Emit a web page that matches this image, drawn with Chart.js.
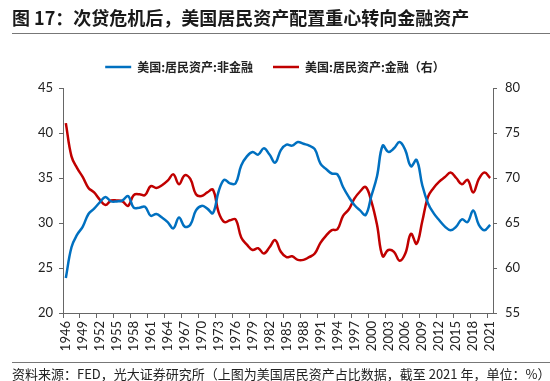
<!DOCTYPE html>
<html>
<head>
<meta charset="utf-8">
<script src="https://cdn.jsdelivr.net/npm/chart.js@4.4.1/dist/chart.umd.min.js"></script>
<style>
  html, body { margin: 0; padding: 0; background: #fff; }
  body { width: 550px; height: 381px; position: relative; overflow: hidden; font-family: "Noto Sans CJK SC", sans-serif; }
  #wrap { position: absolute; left: 0; top: 0; width: 550px; height: 381px; }
  .title { position: absolute; left: 12px; top: 4px; font-size: 18px; font-weight: bold; color: #1a1a1a; white-space: nowrap; }
  .rule { position: absolute; left: 12px; right: 0; height: 0; border-top: 1.5px solid #777; }
  .src { position: absolute; left: 12px; top: 364px; font-size: 13px; color: #222; white-space: nowrap; }
</style>
</head>
<body>
<div id="wrap"><canvas id="chart"></canvas></div>
<div class="title">图 17：次贷危机后，美国居民资产配置重心转向金融资产</div>
<div class="rule" style="top:33px"></div>
<div class="rule" style="top:362px"></div>
<div class="src">资料来源：FED，光大证券研究所（上图为美国居民资产占比数据，截至 2021 年，单位：%）</div>
<script>
const years = [
    '1946', '1947', '1948', '1949', '1950', '1951', '1952', '1953', '1954', '1955',
    '1956', '1957', '1958', '1959', '1960', '1961', '1962', '1963', '1964', '1965',
    '1966', '1967', '1968', '1969', '1970', '1971', '1972', '1973', '1974', '1975',
    '1976', '1977', '1978', '1979', '1980', '1981', '1982', '1983', '1984', '1985',
    '1986', '1987', '1988', '1989', '1990', '1991', '1992', '1993', '1994', '1995',
    '1996', '1997', '1998', '1999', '2000', '2001', '2002', '2003', '2004', '2005',
    '2006', '2007', '2008', '2009', '2010', '2011', '2012', '2013', '2014', '2015',
    '2016', '2017', '2018', '2019', '2020', '2021',
];

// 非金融资产占比 (左轴, %)
const nonFinancial = [
    23.9, 27.3, 28.7, 29.6, 31.0, 31.6, 32.3, 32.9, 32.4, 32.4,
    32.5, 33.0, 31.7, 31.7, 31.8, 30.8, 31.0, 30.6, 30.1, 29.4,
    30.6, 29.6, 29.8, 31.4, 31.9, 31.6, 31.1, 33.5, 34.8, 34.4,
    34.4, 36.4, 37.4, 37.9, 37.6, 38.3, 37.6, 36.7, 38.1, 38.7,
    38.6, 39.0, 38.8, 38.6, 38.2, 36.6, 36.0, 35.5, 35.4, 34.0,
    32.9, 32.0, 31.4, 30.9, 33.0, 35.2, 38.6, 37.9, 38.3, 39.0,
    38.1, 36.3, 37.0, 34.2, 32.2, 31.1, 30.3, 29.6, 29.2, 29.6,
    30.4, 30.1, 31.4, 29.8, 29.2, 29.8,
];

// 金融资产占比 (右轴, %)
const financial = [
    76.1, 72.4, 71.1, 70.1, 68.9, 68.4, 67.6, 67.0, 67.5, 67.5,
    67.4, 66.9, 68.1, 68.2, 68.1, 69.1, 68.9, 69.2, 69.7, 70.4,
    69.3, 70.3, 69.9, 68.2, 68.0, 68.4, 68.7, 66.2, 65.1, 65.3,
    65.4, 63.4, 62.6, 62.0, 62.2, 61.6, 62.3, 63.1, 61.8, 61.2,
    61.3, 60.9, 60.9, 61.2, 61.6, 62.8, 63.6, 64.2, 64.3, 65.8,
    66.5, 67.7, 68.5, 69.0, 67.4, 64.8, 61.3, 62.0, 61.8, 60.8,
    61.6, 63.8, 62.7, 65.2, 67.9, 68.9, 69.6, 70.1, 70.6, 70.0,
    69.3, 69.8, 68.4, 69.9, 70.6, 70.0,
];

const leftTicks = [20, 25, 30, 35, 40, 45];
const rightTicks = [55, 60, 65, 70, 75, 80];

const axisColor = '#666';
const tickFont = { family: '"Lato", "Noto Sans CJK SC", sans-serif', size: 13 };

// a bit more room between the legend and the plot
const legendGap = {
    id: 'legendGap',
    beforeInit(chart) {
        const fit = chart.legend.fit;
        chart.legend.fit = function () {
            fit.call(this);
            this.height += 5;
        };
    },
};

new Chart(document.getElementById('chart'), {
    type: 'line',
    data: {
        labels: years,
        datasets: [
            {
                label: '美国:居民资产:非金融',
                data: nonFinancial,
                yAxisID: 'y',
                borderColor: '#0070C0',
                backgroundColor: '#0070C0',
                borderWidth: 2.5,
                pointRadius: 0,
                tension: 0.4,
            },
            {
                label: '美国:居民资产:金融（右）',
                data: financial,
                yAxisID: 'y1',
                borderColor: '#C00000',
                backgroundColor: '#C00000',
                borderWidth: 2.5,
                pointRadius: 0,
                tension: 0.4,
            },
        ],
    },
    plugins: [legendGap],
    options: {
        responsive: true,
        maintainAspectRatio: false,
        animation: false,
        layout: { padding: { top: 41, left: 0, right: 0, bottom: 0 } },
        plugins: {
            tooltip: { enabled: false },
            legend: {
                position: 'top',
                labels: {
                    usePointStyle: true,
                    pointStyle: 'line',
                    pointStyleWidth: 26,
                    padding: 20,
                    color: '#222',
                    font: { family: '"Noto Sans CJK SC", sans-serif', size: 12, weight: 'bold' },
                },
            },
        },
        scales: {
            x: {
                offset: true,
                grid: {
                    offset: true,
                    drawOnChartArea: false,
                    tickLength: 5,
                    color: (ctx) => (ctx.index % 3 === 0 ? axisColor : 'rgba(0,0,0,0)'),
                },
                border: { color: axisColor, width: 1 },
                ticks: {
                    autoSkip: false,
                    minRotation: 90,
                    maxRotation: 90,
                    padding: 3,
                    color: '#222',
                    font: tickFont,
                    callback: (v, i) => (i % 3 === 0 ? years[i] : ''),
                },
                afterFit: (s) => { s.height = 68; },
            },
            y: {
                position: 'left',
                min: leftTicks[0],
                max: leftTicks[leftTicks.length - 1],
                afterBuildTicks: (s) => { s.ticks = leftTicks.map((v) => ({ value: v })); },
                grid: { drawOnChartArea: false, tickLength: 4, color: axisColor },
                border: { color: axisColor, width: 1 },
                ticks: { padding: 6, color: '#222', font: tickFont },
                afterFit: (s) => { s.width = 63; },
            },
            y1: {
                position: 'right',
                min: rightTicks[0],
                max: rightTicks[rightTicks.length - 1],
                afterBuildTicks: (s) => { s.ticks = rightTicks.map((v) => ({ value: v })); },
                grid: { drawOnChartArea: false, tickLength: 4, color: axisColor },
                border: { color: axisColor, width: 1 },
                ticks: { padding: 8, color: '#222', font: tickFont },
                afterFit: (s) => { s.width = 57; },
            },
        },
    },
});
</script>
</body>
</html>
